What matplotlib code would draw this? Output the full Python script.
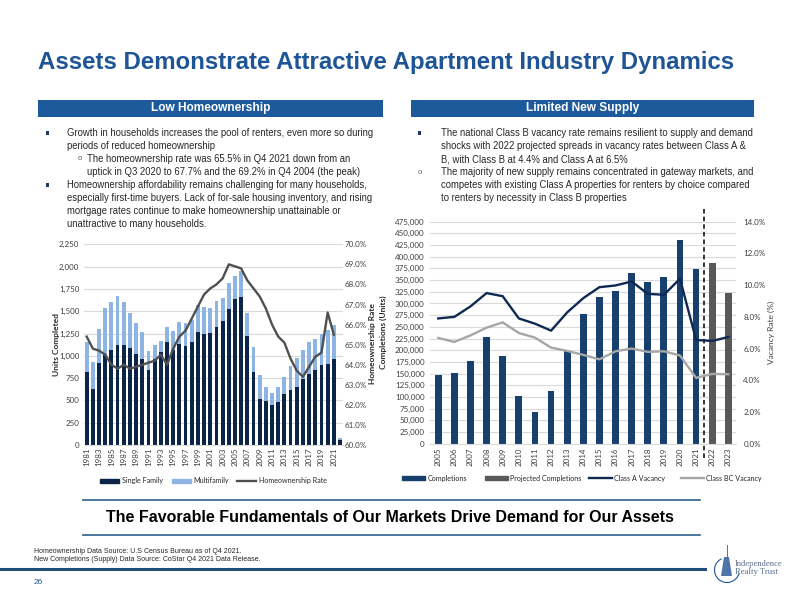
import matplotlib
matplotlib.use('Agg')
import matplotlib.pyplot as plt
import numpy as np
from matplotlib.patches import Rectangle, Arc, Polygon
from matplotlib.lines import Line2D
from matplotlib.transforms import blended_transform_factory
from matplotlib.ticker import FuncFormatter

# ---------------- data ----------------
years_left = list(range(1981, 2023))
single_family = [820, 630, 920, 1010, 1070, 1120, 1120, 1085, 1020, 965, 840, 965, 1040, 1160,
                 1065, 1130, 1115, 1160, 1270, 1245, 1255, 1325, 1385, 1530, 1635, 1655, 1220,
                 820, 520, 495, 445, 485, 570, 620, 650, 740, 795, 840, 900, 910, 965, 60]
multifamily = [340, 295, 380, 530, 535, 550, 480, 390, 345, 300, 210, 160, 125, 160, 215, 250,
               250, 240, 305, 300, 280, 285, 260, 290, 255, 300, 255, 275, 260, 155, 140, 165,
               195, 265, 320, 320, 355, 345, 350, 380, 375, 20]
homeownership_years = list(range(1981, 2022))
homeownership_rate = [65.4, 64.8, 64.7, 64.5, 64.0, 63.8, 64.0, 63.8, 63.9, 64.0, 64.1, 64.2,
                      64.5, 64.0, 64.8, 65.4, 65.7, 66.3, 66.9, 67.5, 67.8, 68.0, 68.3, 69.0,
                      68.9, 68.8, 68.2, 67.8, 67.4, 66.8, 66.0, 65.4, 65.1, 64.3, 63.7, 63.4,
                      63.9, 64.4, 64.6, 66.6, 65.5]

years_right = list(range(2005, 2024))
completion_years = list(range(2005, 2022))
completions = [146000, 152000, 177000, 228000, 188000, 102000, 67000, 113000, 198000, 278000,
               313000, 327000, 366000, 346000, 356000, 436000, 374000]
projected_years = [2022, 2023]
projected_completions = [387000, 323000]
class_a_vacancy = [7.9, 8.0, 8.66, 9.5, 9.3, 7.9, 7.57, 7.13, 8.28, 9.18, 9.87, 9.98, 10.23,
                   9.45, 9.39, 10.4, 6.54, 6.48, 6.73]
class_bc_vacancy = [6.67, 6.42, 6.83, 7.32, 7.65, 6.98, 6.69, 6.06, 5.85, 5.6, 5.32, 5.83, 6.0,
                    5.79, 5.83, 5.56, 4.15, 4.4, 4.38]

left_yticks = list(range(0, 2251, 250))
left_y2ticks = list(range(60, 71, 1))
right_yticks = list(range(0, 475001, 25000))
right_y2ticks = list(range(0, 15, 2))

# ---------------- styling ----------------
W, H = 793, 596
BLUE = '#1F5597'
HDR = '#1C5A9C'
NAVY = '#0D2449'
LIGHT = '#8DB4E2'
COMP = '#17406E'
PROJ = '#595959'
CLA = '#0E2A52'
CLBC = '#A6A6A6'
TXT = '#262626'
SANS = ['Liberation Sans', 'DejaVu Sans']
CHART = ['Lato', 'DejaVu Sans']
SERIF = ['Liberation Serif', 'DejaVu Serif']

plt.rcParams['font.family'] = SANS

def fx(x):
    return x / W

def fy(y):
    return 1 - y / H

fig = plt.figure(figsize=(W / 100, H / 100), dpi=100)
fig.patch.set_facecolor('white')

# title
fig.text(fx(38), fy(62), 'Assets Demonstrate Attractive Apartment Industry Dynamics',
         fontsize=17.3, fontweight='bold', color=BLUE, ha='left', va='center', family=SANS)

# section headers
for x0, x1, label in [(38, 383, 'Low Homeownership'), (411, 754, 'Limited New Supply')]:
    fig.add_artist(Rectangle((fx(x0), fy(117)), (x1 - x0) / W, 17 / H,
                             transform=fig.transFigure, color=HDR, lw=0))
    fig.text(fx((x0 + x1) / 2), fy(108.5), label, color='white', fontsize=8.6,
             fontweight='bold', ha='center', va='center', family=SANS)

BODY = 6.85

def bullet(x, y):
    fig.add_artist(Rectangle((fx(x), fy(y + 1.8)), 3.4 / W, 3.4 / H,
                             transform=fig.transFigure, color='#1F3864', lw=0))

def sub_bullet(x, y):
    fig.text(fx(x), fy(y), 'o', fontsize=5.5, color='#595959', ha='left', va='center',
             family=SANS)

def line(x, y, s):
    fig.text(fx(x), fy(y), s, fontsize=BODY, color=TXT, ha='left', va='center',
             family=SANS)

left_lines = [
    (67, 133, 'Growth in households increases the pool of renters, even more so during'),
    (67, 146, 'periods of reduced homeownership'),
    (87, 159, 'The homeownership rate was 65.5% in Q4 2021 down from an'),
    (87, 172, 'uptick in Q3 2020 to 67.7% and the 69.2% in Q4 2004 (the peak)'),
    (67, 185, 'Homeownership affordability remains challenging for many households,'),
    (67, 198, 'especially first-time buyers. Lack of for-sale housing inventory, and rising'),
    (67, 211, 'mortgage rates continue to make homeownership unattainable or'),
    (67, 224, 'unattractive to many households.'),
]
for x, y, s in left_lines:
    line(x, y, s)
bullet(46, 133)
sub_bullet(78, 159)
bullet(46, 185)

right_lines = [
    (441, 133, 'The national Class B vacancy rate remains resilient to supply and demand'),
    (441, 146, 'shocks with 2022 projected spreads in vacancy rates between Class A &'),
    (441, 159, 'B, with Class B at 4.4% and Class A at 6.5%'),
    (441, 172, 'The majority of new supply remains concentrated in gateway markets, and'),
    (441, 185, 'competes with existing Class A properties for renters by choice compared'),
    (441, 198, 'to renters by necessity in Class B properties'),
]
for x, y, s in right_lines:
    line(x, y, s)
bullet(418, 133)
sub_bullet(418, 172)

TICK = 5.8
TCOL = '#404040'
LEG = 5.1

def legend_item(handle, label, x, y, hl):
    lg = fig.legend([handle], [label], loc='center left', bbox_to_anchor=(fx(x), fy(y)),
                    frameon=False, handlelength=hl, handleheight=0.6, handletextpad=0.35,
                    borderpad=0, borderaxespad=0, prop={'family': CHART, 'size': LEG})
    for t in lg.get_texts():
        t.set_color('#262626')
    return lg

# ---------------- left chart ----------------
ax1 = fig.add_axes([fx(83.6), fy(445), (343.1 - 83.6) / W, (445 - 244.3) / H])
xl = np.arange(len(years_left))
ax1.bar(xl, single_family, width=0.62, color=NAVY, zorder=2)
ax1.bar(xl, multifamily, bottom=single_family, width=0.62, color=LIGHT, zorder=2)
ax1.set_xlim(-0.5, len(years_left) - 0.5)
ax1.set_ylim(0, 2250)
ax1.set_yticks(left_yticks)
ax1.yaxis.set_major_formatter(FuncFormatter(lambda v, p: f'{int(v):,}'))
ax1.set_xticks(xl[::2])
ax1.set_xticklabels([str(y) for y in years_left[::2]], rotation=90)
ax1.yaxis.grid(True, color='#D9D9D9', lw=0.8)
ax1.set_axisbelow(True)
for s in ['top', 'right', 'left']:
    ax1.spines[s].set_visible(False)
ax1.spines['bottom'].set_color('#D9D9D9')
ax1.tick_params(axis='both', length=0, labelsize=TICK, colors=TCOL)
ax1.tick_params(axis='y', pad=3)
ax1.tick_params(axis='x', pad=2)

ax1b = ax1.twinx()
xh = [years_left.index(y) for y in homeownership_years]
ax1b.plot(xh, homeownership_rate, color='#505050', lw=1.7, zorder=3)
ax1b.set_ylim(60, 70)
ax1b.set_yticks(left_y2ticks)
ax1b.yaxis.set_major_formatter(FuncFormatter(lambda v, p: f'{v:.1f}%'))
for s in ax1b.spines.values():
    s.set_visible(False)
ax1b.tick_params(axis='y', length=0, labelsize=TICK, colors=TCOL, pad=1)

for lab in ax1.get_xticklabels() + ax1.get_yticklabels() + ax1b.get_yticklabels():
    lab.set_family(CHART)

fig.text(fx(56), fy(344), 'Units Completed', rotation=90, ha='center', va='center',
         fontsize=6, color='#262626', family=CHART, fontweight='bold')
fig.text(fx(373), fy(344), 'Homeownership Rate', rotation=90, ha='center', va='center',
         fontsize=6, color='#262626', family=CHART, fontweight='bold')

legend_item(Rectangle((0, 0), 1, 1, color=NAVY), 'Single Family', 100, 481, 2.7)
legend_item(Rectangle((0, 0), 1, 1, color=LIGHT), 'Multifamily', 172, 481, 2.7)
legend_item(Line2D([0], [0], color='#505050', lw=1.7), 'Homeownership Rate', 237, 481, 2.7)

# ---------------- right chart ----------------
ax2 = fig.add_axes([fx(430.2), fy(443.7), (736.4 - 430.2) / W, (443.7 - 221.7) / H])
xr = np.arange(len(years_right))
xc = [years_right.index(y) for y in completion_years]
xp = [years_right.index(y) for y in projected_years]
ax2.bar(xc, completions, width=0.42, color=COMP, zorder=2)
ax2.bar(xp, projected_completions, width=0.42, color=PROJ, zorder=2)
ax2.set_xlim(-0.5, len(years_right) - 0.5)
ax2.set_ylim(0, 475000)
ax2.set_yticks(right_yticks)
ax2.yaxis.set_major_formatter(FuncFormatter(lambda v, p: f'{int(v):,}'))
ax2.set_xticks(xr)
ax2.set_xticklabels([str(y) for y in years_right], rotation=90)
ax2.yaxis.grid(True, color='#D9D9D9', lw=0.8)
ax2.set_axisbelow(True)
for s in ['top', 'right', 'left']:
    ax2.spines[s].set_visible(False)
ax2.spines['bottom'].set_color('#D9D9D9')
ax2.tick_params(axis='both', length=0, labelsize=TICK, colors=TCOL)
ax2.tick_params(axis='y', pad=4)
ax2.tick_params(axis='x', pad=3)

ax2b = ax2.twinx()
ax2b.plot(xr, class_a_vacancy, color=CLA, lw=1.7, zorder=3)
ax2b.plot(xr, class_bc_vacancy, color=CLBC, lw=1.7, zorder=3)
ax2b.set_ylim(0, 14)
ax2b.set_yticks(right_y2ticks)
ax2b.yaxis.set_major_formatter(FuncFormatter(lambda v, p: f'{v:.1f}%'))
for s in ax2b.spines.values():
    s.set_visible(False)
ax2b.tick_params(axis='y', length=0, labelsize=TICK, colors=TCOL, pad=5)

for lab in ax2.get_xticklabels() + ax2.get_yticklabels() + ax2b.get_yticklabels():
    lab.set_family(CHART)

# divider between actual and projected
tr = blended_transform_factory(ax2.transData, ax2.transAxes)
ax2.plot([xc[-1] + 0.5, xc[-1] + 0.5], [-0.065, 1.062], transform=tr, color='black',
         lw=1.1, ls=(0, (3, 2)), clip_on=False, zorder=4)

fig.text(fx(383), fy(332), 'Completions (Units)', rotation=90, ha='center', va='center',
         fontsize=6, color='#262626', family=CHART, fontweight='bold')
fig.text(fx(771), fy(332), 'Vacancy Rate (%)', rotation=90, ha='center', va='center',
         fontsize=6, color='#404040', family=CHART)

legend_item(Rectangle((0, 0), 1, 1, color=COMP), 'Completions', 402, 478, 3.2)
legend_item(Rectangle((0, 0), 1, 1, color=PROJ), 'Projected Completions', 485, 478, 3.2)
legend_item(Line2D([0], [0], color=CLA, lw=1.7), 'Class A Vacancy', 589, 478, 3.2)
legend_item(Line2D([0], [0], color=CLBC, lw=1.7), 'Class BC Vacancy', 681, 478, 3.2)

# ---------------- footer ----------------
for yy in (500, 535):
    fig.add_artist(Line2D([fx(83), fx(700)], [fy(yy), fy(yy)], transform=fig.transFigure,
                          color='#2F5D8C', lw=1.2))
fig.text(fx(390), fy(517), 'The Favorable Fundamentals of Our Markets Drive Demand for Our Assets',
         fontsize=11.5, fontweight='bold', color='black', ha='center', va='center', family=SANS)
fig.text(fx(34), fy(551.5), 'Homeownership Data Source: U.S Census Bureau as of Q4 2021.',
         fontsize=5, color=TXT, ha='left', va='center', family=SANS)
fig.text(fx(34), fy(559.5), 'New Completions (Supply) Data Source: CoStar Q4 2021 Data Release.',
         fontsize=5, color=TXT, ha='left', va='center', family=SANS)
fig.add_artist(Line2D([0, fx(705)], [fy(568.5), fy(568.5)], transform=fig.transFigure,
                      color='#1F4E79', lw=2.2))
fig.text(fx(34), fy(583), '26', fontsize=6, color=BLUE, ha='left', va='center', family=SANS)

# logo
fig.add_artist(Arc((fx(727), fy(570)), 25 / W, 25 / H, theta1=110, theta2=340,
                   transform=fig.transFigure, color='#1F5597', lw=0.8))
fig.add_artist(Line2D([fx(726.5), fx(726.5)], [fy(545), fy(558)], transform=fig.transFigure,
                      color='#5A6E8C', lw=0.7))
fig.add_artist(Polygon([(fx(721), fy(576)), (fx(724), fy(557)), (fx(729), fy(557)),
                        (fx(732), fy(576))], closed=True, transform=fig.transFigure,
                       color='#4F74A8', lw=0))
fig.text(fx(735), fy(563.5), 'Independence', fontsize=6.2, color='#5A6E8C', ha='left',
         va='center', family=SERIF)
fig.text(fx(735), fy(572.5), 'Realty Trust', fontsize=6.2, color='#5A6E8C', ha='left',
         va='center', family=SERIF)

fig.savefig('out.png', dpi=100, facecolor='white')
